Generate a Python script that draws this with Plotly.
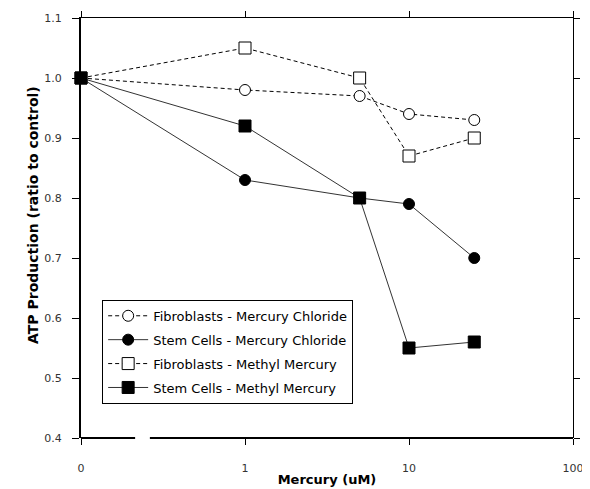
import plotly.graph_objects as go

# Data
conc_labels = ["0", "1", "5", "10", "25"]
conc_plot = [0.1, 1, 5, 10, 25]  # 0 shown at the broken-axis origin position
fib_hgcl = [1.00, 0.98, 0.97, 0.94, 0.93]
stem_hgcl = [1.00, 0.83, 0.80, 0.79, 0.70]
fib_mehg = [1.00, 1.05, 1.00, 0.87, 0.90]
stem_mehg = [1.00, 0.92, 0.80, 0.55, 0.56]

x_tickvals = [0.1, 1, 10, 100]
x_ticktext = ["0", "1", "10", "100"]
y_tickvals = [0.4, 0.5, 0.6, 0.7, 0.8, 0.9, 1.0, 1.1]
y_ticktext = ["0.4", "0.5", "0.6", "0.7", "0.8", "0.9", "1.0", "1.1"]

FONT = "DejaVu Sans, Verdana, sans-serif"

series = [
    ("Fibroblasts - Mercury Chloride", fib_hgcl, "circle-open", "4px,3px", "black"),
    ("Stem Cells - Mercury Chloride", stem_hgcl, "circle", "solid", "#333333"),
    ("Fibroblasts - Methyl Mercury", fib_mehg, "square-open", "4px,3px", "black"),
    ("Stem Cells - Methyl Mercury", stem_mehg, "square", "solid", "#333333"),
]

fig = go.Figure()
for i, (name, vals, sym, dash, lc) in enumerate(series):
    filled = not sym.endswith("open")
    fig.add_trace(go.Scatter(
        x=conc_plot, y=vals, name=name, mode="lines+markers",
        legendgroup=f"g{i}",
        line=dict(color=lc, width=1, dash=dash),
        marker=dict(
            symbol="square" if sym.startswith("square") else "circle",
            size=12 if sym.startswith("square") else 11,
            color="black" if filled else "white",
            line=dict(color="black", width=1),
        ),
        cliponaxis=False,
    ))

# invisible trace to activate the mirrored top/right axes
fig.add_trace(go.Scatter(x=[0.1, 100], y=[0.4, 1.1], xaxis="x2", yaxis="y2",
                         mode="markers", marker=dict(opacity=0), showlegend=False,
                         hoverinfo="skip"))

axis_range_x = [-1, 2]

# page body adds an 8px offset; figure sized to fit the window
fig.update_layout(
    width=582, height=481,
    margin=dict(l=73, r=17, t=10, b=51),
    paper_bgcolor="white", plot_bgcolor="white",
    font=dict(family=FONT, size=11, color="#333333"),
    showlegend=True,
    legend=dict(
        x=0.043, y=0.329, xanchor="left", yanchor="top",
        bordercolor="black", borderwidth=1, bgcolor="white",
        font=dict(family=FONT, size=13, color="black"),
        traceorder="grouped", tracegroupgap=4,
        itemwidth=40,
    ),
    xaxis=dict(
        type="log", range=axis_range_x, automargin=False,
        tickvals=x_tickvals, ticktext=x_ticktext,
        showline=False, showgrid=False, zeroline=False,
        ticks="outside", ticklen=6, tickwidth=1, tickcolor="black",
        ticklabelstandoff=14,
        tickfont=dict(family=FONT, size=11, color="#333333"),
        title=dict(text="<b>Mercury (uM)</b>", font=dict(family=FONT, size=13, color="black"),
                   standoff=0),
    ),
    xaxis2=dict(
        type="log", range=axis_range_x, overlaying="x", side="top", automargin=False,
        tickvals=x_tickvals, showticklabels=False,
        showline=True, linecolor="black", linewidth=1,
        showgrid=False, zeroline=False,
        ticks="outside", ticklen=6, tickwidth=1, tickcolor="black",
    ),
    yaxis=dict(
        range=[0.4, 1.1], tickvals=y_tickvals, ticktext=y_ticktext, automargin=False,
        showline=True, linecolor="black", linewidth=2,
        showgrid=False, zeroline=False,
        ticks="outside", ticklen=7, tickwidth=1, tickcolor="black",
        ticklabelstandoff=8,
        tickfont=dict(family=FONT, size=11, color="#333333"),
    ),
    yaxis2=dict(
        range=[0.4, 1.1], tickvals=y_tickvals, overlaying="y", side="right", automargin=False,
        showticklabels=False, showline=True, linecolor="black", linewidth=1,
        showgrid=False, zeroline=False,
        ticks="outside", ticklen=6, tickwidth=1, tickcolor="black",
    ),
    annotations=[
        dict(text="<b>ATP Production (ratio to control)</b>", textangle=-90,
             xref="paper", yref="paper", x=-0.0976, y=0.531,
             xanchor="center", yanchor="middle", showarrow=False,
             font=dict(family=FONT, size=14, color="black")),
    ],
    shapes=[
        dict(type="line", xref="paper", yref="paper", x0=0, x1=0.11, y0=0, y1=0,
             line=dict(color="black", width=2)),
        dict(type="line", xref="paper", yref="paper", x0=0.14, x1=1, y0=0, y1=0,
             line=dict(color="black", width=2)),
    ],
)

fig.write_html("out.html")
